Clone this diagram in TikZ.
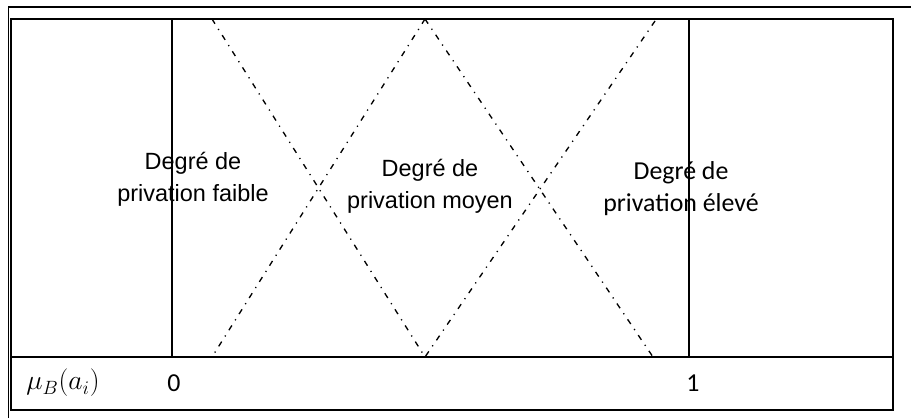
\documentclass[tikz,border=0pt]{standalone}
\usepackage{fontspec}
\setmainfont{Liberation Sans}
\newfontfamily\calibri{Carlito}
\usepackage{amsmath}
\usepackage{tikz}
\usetikzlibrary{calc}

\begin{document}
\begin{tikzpicture}[x=0.75pt, y=0.75pt, line width=1.3pt,
	dashdot/.style={line width=1pt, dash pattern=on 4.2pt off 4.6pt on 0.9pt off 4.6pt},
	ligne/.style={line width=1.1pt},
	txtarial/.style={align=center, font=\fontsize{17.6}{24}\selectfont},
	txtcalibri/.style={align=center, font=\calibri\fontsize{19.4}{24}\selectfont}]
			\useasboundingbox (0,0) rectangle (911,418);
			% cadre exterieur
			\draw (8.5,0) -- (8.5,411) -- (911,411);
			% tableau
			\draw (11,8) rectangle (893,399);
			\draw (11,61) -- (893,61);
			
			\coordinate (h0) at (172,399);
			\coordinate (b0) at (172,61);
			\coordinate (h1) at (689,399);
			\coordinate (b1) at (689,61);
			\draw[ligne] (h0) -- (b0);
			\draw[ligne] (h1) -- (b1);
			
			\coordinate (fh) at (212,399);
			\coordinate (fb) at (212,61);
			\coordinate (mh) at (425,399);
			\coordinate (mb) at (425,61);
			\coordinate (eh) at (655,397);
			\coordinate (eb) at (653,61);
			\draw[dashdot] (fh) -- (mb);
			\draw[dashdot] (mh) -- (fb);
			\draw[dashdot] (mh) -- (eb);
			\draw[dashdot] (eh) -- (mb);
			
			\node[txtarial] (faible) at (193,239) {Degré de\\privation faible};
			\node[txtarial] (moyen) at (430,232) {Degré de\\privation moyen};
			\node[txtcalibri] (eleve) at (681,229) {Degré de\\privation élevé};
			
			\node[font=\fontsize{22}{24}\selectfont] (mu) at (63,35) {$\mu_B(a_i)$};
			\node[txtcalibri] (zero) at (174,35) {0};
			\node[txtcalibri] (un) at (693,35) {1};
		\end{tikzpicture}
\end{document}
